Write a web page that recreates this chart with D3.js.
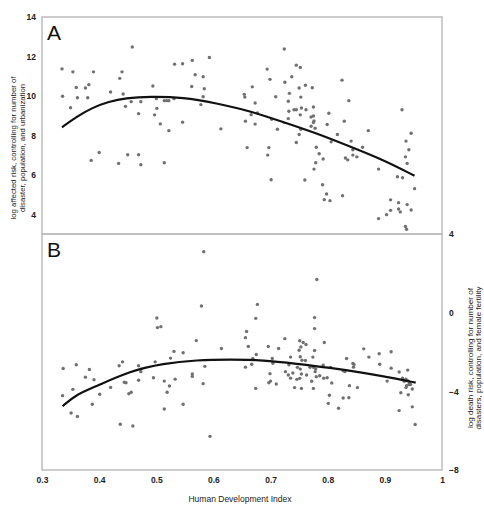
<!doctype html>
<html>
<head>
  <meta charset="UTF-8">
  <title>HDI risk</title>
  <script src="https://d3js.org/d3.v7.min.js"></script>
  <style>
    body { margin: 0; background: #fff; }
    text { font-family: "Liberation Sans", Arial, sans-serif; }
  </style>
</head>
<body>
<script>
  // panel A: log affected risk vs HDI
  var hdiA = [0.458,0.335,0.354,0.390,0.440,0.436,0.360,0.376,0.382,0.420,
    0.442,0.494,0.532,0.336,0.362,0.380,0.350,0.446,0.456,0.473,
    0.500,0.514,0.518,0.522,0.531,0.469,0.501,0.497,0.507,0.522,
    0.400,0.386,0.450,0.469,0.434,0.473,0.514,
    0.546,0.563,0.593,0.724,0.568,0.582,0.562,0.584,0.582,0.578,
    0.546,0.613,0.668,0.654,0.655,0.673,0.666,0.677,0.656,0.673,0.659,
    0.694,0.699,0.709,0.702,0.712,0.697,0.695,0.701,
    0.725,0.737,0.745,0.752,0.750,0.761,0.733,0.753,0.731,0.732,
    0.741,0.745,0.754,0.762,0.752,0.731,0.750,0.745,0.753,0.760,
    0.773,0.775,0.771,0.775,0.776,0.775,0.771,0.778,
    0.825,0.837,0.802,0.799,0.829,0.817,0.806,0.780,0.785,0.792,0.779,0.776,
    0.841,0.844,0.844,0.851,0.861,0.831,0.835,0.871,0.889,
    0.791,0.798,0.794,0.804,0.826,
    0.930,0.946,0.937,0.942,0.936,0.939,0.922,0.931,0.952,
    0.910,0.924,0.939,0.910,0.924,0.927,0.946,0.903,0.889,0.936,0.938];
  var riskA = [12.48,11.37,11.22,11.22,11.22,10.89,10.43,10.40,10.57,10.20,
    10.10,10.50,11.61,9.98,9.91,9.91,9.40,9.47,9.71,9.71,
    9.86,9.76,9.76,9.76,9.86,9.10,9.37,9.04,8.58,8.24,
    7.13,6.73,7.02,7.02,6.58,6.51,6.61,
    11.63,11.80,11.95,12.38,11.07,10.97,10.48,10.36,9.96,9.56,
    8.67,8.33,10.46,10.08,9.94,9.64,9.05,9.14,8.72,8.57,7.38,
    11.36,10.84,9.96,8.82,8.31,7.38,7.00,5.75,
    10.69,10.97,11.56,11.44,10.40,10.54,10.13,9.94,9.73,9.22,
    9.30,9.30,9.39,9.30,9.04,8.85,8.04,7.64,8.31,5.74,
    10.41,9.44,8.93,8.98,8.73,8.65,8.46,8.36,
    10.80,9.76,9.12,8.55,8.72,8.04,7.67,7.40,7.07,6.80,6.61,6.29,
    7.71,7.27,7.00,6.91,7.40,6.85,6.76,8.24,6.29,
    5.50,5.03,4.74,4.69,4.94,
    9.30,8.11,7.71,7.27,6.91,6.58,5.90,5.85,5.30,
    4.73,4.59,4.49,4.20,4.27,4.12,4.22,3.98,3.78,3.38,3.24];
  var fitHdiA = [0.335,0.358,0.3875,0.417,0.446,0.489,0.547,0.605,0.664,0.722,0.780,0.839,0.897,0.952];
  var fitRiskA = [8.41,8.90,9.40,9.71,9.89,9.97,9.93,9.63,9.24,8.67,8.11,7.43,6.76,5.95];

  // panel B: log death risk vs HDI
  var hdiB = [0.501,0.502,0.508,0.337,0.360,0.383,0.376,0.391,0.354,0.336,
    0.351,0.362,0.388,0.401,0.420,0.435,0.441,0.444,0.447,0.452,
    0.456,0.469,0.473,0.473,0.469,0.437,0.459,0.498,0.495,0.525,
    0.531,0.514,0.523,0.519,0.533,0.514,
    0.583,0.579,0.570,0.547,0.614,0.585,0.563,0.563,0.582,0.547,
    0.594,0.677,0.674,0.658,0.656,0.661,0.675,0.669,0.667,0.656,
    0.674,0.696,0.703,0.704,0.714,0.725,0.699,0.700,0.697,0.710,
    0.726,0.735,0.732,0.751,0.757,0.762,0.753,0.750,0.752,0.755,
    0.761,0.739,0.731,0.735,0.747,0.752,0.754,0.746,0.751,0.763,
    0.742,0.754,0.772,0.775,0.774,0.777,0.777,0.777,0.781,0.794,
    0.769,0.775,0.779,0.778,0.792,0.780,0.786,0.793,0.799,0.807,
    0.803,0.801,0.819,0.805,0.827,0.830,0.833,0.844,0.846,0.845,
    0.838,0.852,0.827,0.837,0.863,0.872,0.890,0.891,0.911,0.911,
    0.904,0.925,0.940,0.931,0.937,0.940,0.934,0.943,0.938,0.942,
    0.945,0.937,0.948,0.928,0.941,0.948,0.925,0.953];
  var riskB = [-0.27,-0.76,-0.71,-2.84,-2.65,-2.89,-3.28,-3.41,-3.90,-4.22,
    -5.10,-5.28,-4.66,-4.15,-3.80,-2.70,-2.50,-3.54,-3.56,-4.12,
    -4.05,-2.70,-2.87,-3.00,-3.44,-5.67,-5.76,-2.50,-3.31,-2.31,
    -1.97,-3.48,-3.73,-4.05,-3.38,-4.90,
    3.10,0.34,-1.42,-2.04,-1.82,-2.73,-3.12,-3.24,-3.61,-4.66,
    -6.29,0.42,-0.29,-0.96,-1.27,-1.72,-2.13,-2.33,-2.62,-2.77,
    -3.85,-1.72,-2.33,-2.57,-1.82,-1.32,-3.10,-3.48,-3.56,-3.63,
    -3.00,-2.26,-2.65,-1.43,-1.52,-1.62,-1.74,-1.91,-2.24,-2.42,
    -2.43,-3.07,-3.17,-3.33,-2.78,-2.87,-3.12,-3.39,-3.34,-3.17,
    -3.81,-3.85,-3.49,-3.85,-2.26,-1.92,-0.25,-0.81,1.69,-1.52,
    -2.78,-2.78,-2.87,-3.00,-2.67,-3.26,-3.21,-3.33,-3.31,-3.58,
    -4.20,-4.61,-4.86,-2.78,-2.95,-2.99,-2.33,-2.58,-2.63,-2.77,
    -3.71,-3.81,-4.34,-4.32,-1.84,-2.26,-2.09,-2.62,-1.99,-2.82,
    -3.48,-3.02,-2.92,-3.33,-3.38,-3.46,-3.49,-3.58,-3.71,-3.66,
    -3.65,-3.81,-3.88,-4.07,-4.17,-4.79,-4.98,-5.69];
  var fitHdiB = [0.336,0.358,0.396,0.454,0.512,0.571,0.629,0.687,0.746,0.804,0.862,0.921,0.954];
  var fitRiskB = [-4.76,-4.19,-3.73,-2.97,-2.58,-2.41,-2.38,-2.41,-2.60,-2.80,-3.05,-3.36,-3.56];

  var xTicks = [0.3, 0.4, 0.5, 0.6, 0.7, 0.8, 0.9, 1];
  var xTickLabels = ["0.3", "0.4", "0.5", "0.6", "0.7", "0.8", "0.9", "1"];
  var yTicksA = [4, 6, 8, 10, 12, 14];
  var yTicksB = [-8, -4, 0, 4];

  var W = 484, H = 506;
  var left = 42, right = 442;
  var topA = 17, botA = 234, topB = 234, botB = 470;

  var svg = d3.select("body").append("svg")
    .attr("width", W)
    .attr("height", H);

  var x = d3.scaleLinear().domain([0.3, 1]).range([left, right]);
  var yA = d3.scaleLinear().domain([3, 14]).range([botA, topA]);
  var yB = d3.scaleLinear().domain([-8, 4]).range([botB, topB]);

  function panel(xs, ys, fx, fy, y, y0, y1, letter) {
    svg.append("rect")
      .attr("x", left).attr("y", y0)
      .attr("width", right - left).attr("height", y1 - y0)
      .attr("fill", "none")
      .attr("stroke", "#bcbcbc")
      .attr("stroke-width", 1.5);

    svg.append("g").selectAll("circle")
      .data(xs)
      .enter().append("circle")
      .attr("cx", function(d) { return x(d); })
      .attr("cy", function(d, i) { return y(ys[i]); })
      .attr("r", 1.7)
      .attr("fill", "#707070");

    var line = d3.line()
      .x(function(d) { return x(d); })
      .y(function(d, i) { return y(fy[i]); })
      .curve(d3.curveBasis);

    svg.append("path")
      .attr("d", line(fx))
      .attr("fill", "none")
      .attr("stroke", "#111")
      .attr("stroke-width", 2.2);

    svg.append("text")
      .attr("x", 47)
      .attr("y", y0 + 23)
      .attr("font-size", 21)
      .attr("fill", "#111")
      .text(letter);
  }

  panel(hdiA, riskA, fitHdiA, fitRiskA, yA, topA, botA, "A");
  panel(hdiB, riskB, fitHdiB, fitRiskB, yB, topB, botB, "B");

  function styleAxis(g) {
    g.select(".domain").remove();
    g.selectAll("text")
      .attr("font-size", 8.5)
      .attr("font-weight", "bold")
      .attr("fill", "#222")
      .style("font-family", "'Liberation Sans', Arial, sans-serif");
  }

  svg.append("g")
    .attr("transform", "translate(" + left + ",0)")
    .call(d3.axisLeft(yA).tickValues(yTicksA).tickSize(0).tickPadding(6))
    .call(styleAxis);

  svg.append("g")
    .attr("transform", "translate(" + right + ",0)")
    .call(d3.axisRight(yB).tickValues(yTicksB).tickSize(0).tickPadding(7))
    .call(styleAxis);

  svg.append("g")
    .attr("transform", "translate(0," + botB + ")")
    .call(d3.axisBottom(x).tickValues(xTicks).tickSize(0).tickPadding(7)
      .tickFormat(function(d, i) { return xTickLabels[i]; }))
    .call(styleAxis);

  svg.append("text")
    .attr("x", 240)
    .attr("y", 502)
    .attr("text-anchor", "middle")
    .attr("font-size", 8.5)
    .attr("fill", "#222")
    .text("Human Development Index");

  // rotated y titles, two lines each
  var titleA = ["log affected risk, controlling for number of", "disaster, population, and urbanization"];
  var titleB = ["log death risk, controlling for number of", "disasters, population, and female fertility"];
  var lenA = [143, 128];
  var lenB = [140, 143];

  titleA.forEach(function(t, i) {
    svg.append("text")
      .attr("transform", "translate(" + (13.5 + i * 8.5) + ",148) rotate(-90)")
      .attr("text-anchor", "middle")
      .attr("dominant-baseline", "central")
      .attr("font-size", 8)
      .attr("fill", "#222")
      .attr("textLength", lenA[i])
      .attr("lengthAdjust", "spacingAndGlyphs")
      .text(t);
  });

  titleB.forEach(function(t, i) {
    svg.append("text")
      .attr("transform", "translate(" + (470 + i * 8) + ",358) rotate(-90)")
      .attr("text-anchor", "middle")
      .attr("dominant-baseline", "central")
      .attr("font-size", 8)
      .attr("fill", "#222")
      .attr("textLength", lenB[i])
      .attr("lengthAdjust", "spacingAndGlyphs")
      .text(t);
  });
</script>
</body>
</html>
